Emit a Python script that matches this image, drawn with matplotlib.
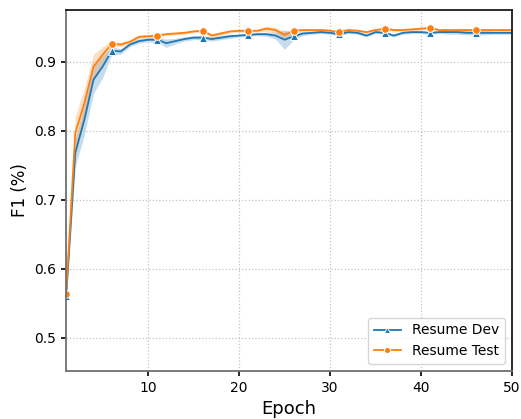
import numpy as np
import matplotlib
matplotlib.use("Agg")
import matplotlib.pyplot as plt

epochs = list(range(1, 51))

dev_mean = [0.560, 0.768, 0.816, 0.874, 0.893, 0.916, 0.915, 0.925, 0.930, 0.932,
            0.932, 0.927, 0.930, 0.933, 0.935, 0.935, 0.933, 0.935, 0.937, 0.938,
            0.939, 0.940, 0.940, 0.938, 0.932, 0.937, 0.941, 0.942, 0.943, 0.942,
            0.940, 0.943, 0.942, 0.938, 0.943, 0.942, 0.938, 0.942, 0.943, 0.943,
            0.942, 0.943, 0.943, 0.943, 0.942, 0.942, 0.942, 0.942, 0.942, 0.942]
dev_std = [0.004, 0.020, 0.022, 0.020, 0.016, 0.006, 0.004, 0.003, 0.003, 0.003,
           0.004, 0.006, 0.004, 0.003, 0.003, 0.003, 0.003, 0.003, 0.003, 0.002,
           0.002, 0.002, 0.003, 0.005, 0.014, 0.005, 0.003, 0.002, 0.002, 0.002,
           0.002, 0.002, 0.002, 0.002, 0.002, 0.002, 0.002, 0.002, 0.002, 0.002,
           0.002, 0.002, 0.003, 0.003, 0.003, 0.003, 0.003, 0.002, 0.002, 0.002]

test_mean = [0.563, 0.797, 0.840, 0.893, 0.910, 0.926, 0.925, 0.929, 0.936, 0.937,
             0.938, 0.940, 0.941, 0.942, 0.944, 0.945, 0.938, 0.941, 0.944, 0.945,
             0.945, 0.945, 0.948, 0.946, 0.939, 0.945, 0.946, 0.946, 0.946, 0.945,
             0.943, 0.946, 0.945, 0.943, 0.946, 0.948, 0.946, 0.946, 0.947, 0.948,
             0.949, 0.946, 0.946, 0.946, 0.946, 0.946, 0.946, 0.946, 0.946, 0.946]
test_std = [0.004, 0.024, 0.022, 0.018, 0.012, 0.004, 0.003, 0.003, 0.003, 0.002,
            0.002, 0.002, 0.002, 0.002, 0.002, 0.002, 0.003, 0.003, 0.002, 0.002,
            0.002, 0.002, 0.004, 0.004, 0.005, 0.003, 0.002, 0.002, 0.002, 0.002,
            0.002, 0.002, 0.002, 0.002, 0.002, 0.002, 0.002, 0.002, 0.002, 0.002,
            0.002, 0.002, 0.002, 0.002, 0.002, 0.002, 0.002, 0.002, 0.002, 0.002]

blue = "#1f77b4"
orange = "#ff7f0e"

fig = plt.figure(figsize=(5.21, 4.19), dpi=100)
ax = fig.add_axes([0.127, 0.115, 0.856, 0.861])

x = np.array(epochs)
for mean, std, color, marker, label in [
    (dev_mean, dev_std, blue, "^", "Resume Dev"),
    (test_mean, test_std, orange, "o", "Resume Test"),
]:
    m = np.array(mean)
    s = np.array(std)
    ax.fill_between(x, m - s, m + s, color=color, alpha=0.25, linewidth=0)
    ax.plot(x, m, color=color, linewidth=1.3, marker=marker, markersize=5.5,
            markeredgecolor="white", markeredgewidth=0.7, markevery=5, label=label)

ax.set_xlim(1, 50)
ax.set_ylim(0.452, 0.975)
ax.set_xticks([10, 20, 30, 40, 50])
ax.set_yticks([0.5, 0.6, 0.7, 0.8, 0.9])
ax.tick_params(labelsize=10, width=1.2)
ax.grid(True, linestyle=":", color="#c4c4c4", linewidth=0.9)
ax.set_xlabel("Epoch", fontsize=13)
ax.set_ylabel("F1 (%)", fontsize=12)
for side in ["left", "bottom"]:
    ax.spines[side].set_color("#707070")
    ax.spines[side].set_linewidth(1.3)
for side in ["top", "right"]:
    ax.spines[side].set_color("#1a1a1a")
    ax.spines[side].set_linewidth(1.3)
ax.legend(loc="lower right", fontsize=10, markerscale=0.8)

fig.savefig("out.png", dpi=100)
